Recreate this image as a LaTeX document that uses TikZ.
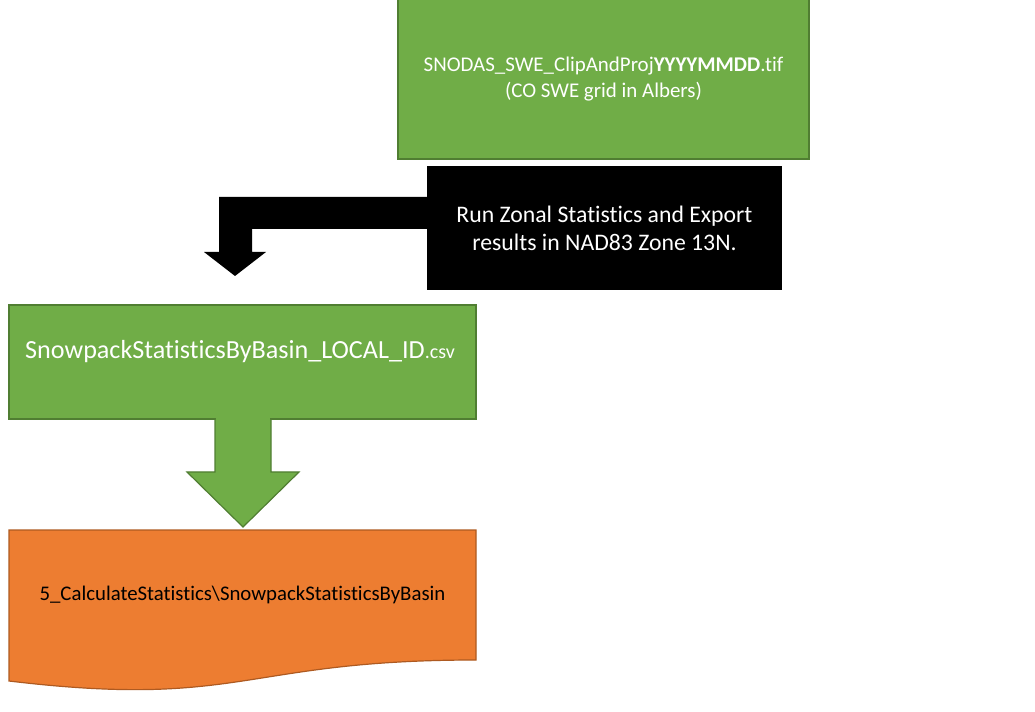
\documentclass[tikz,border=0pt]{standalone}
\usepackage{fontspec}
\setmainfont{Carlito}[Ligatures=NoCommon]
\definecolor{gfill}{HTML}{70AD47}
\definecolor{gline}{HTML}{507E32}
\definecolor{ofill}{HTML}{ED7D31}
\definecolor{oline}{HTML}{AE5A21}
\begin{document}
\begin{tikzpicture}[x=0.75pt,y=-0.75pt,
  gbox/.style={draw=gline,fill=gfill,line width=0.9pt,inner sep=0pt,text=white,align=center},
  kbox/.style={fill=black,inner sep=0pt,text=white,align=center},
  lbl/.style={inner sep=0pt,align=center}]
\useasboundingbox (0,0) rectangle (1035,712);
% top green box
\node[gbox,minimum width=308.25pt,minimum height=120pt,font=\fontsize{15.7}{19}\selectfont] (src) at (603.5,79)
  {SNODAS\_SWE\_ClipAndProj\textbf{YYYYMMDD}.tif\\(CO SWE grid in Albers)};
% black process box
\node[kbox,minimum width=266.25pt,minimum height=93pt,font=\fontsize{17.8}{21}\selectfont] (proc) at (604.5,228)
  {Run Zonal Statistics and Export\\results in NAD83 Zone 13N.};
% black bent arrow
\fill[black] (427,197) -- (219,197) -- (219,252) -- (204,252) -- (235,276) -- (266,252) -- (252,252) -- (252,229) -- (427,229) -- cycle;
% middle green box
\node[gbox,minimum width=350.25pt,minimum height=85.5pt] (csv) at (242.5,362) {};
\node[lbl,text=white,font=\fontsize{19.6}{22}\selectfont] (csvt) at (240,352)
  {SnowpackStatisticsByBasin\_LOCAL\_ID{\fontsize{15}{16}\selectfont.csv}};
% green block arrow
\filldraw[fill=gfill,draw=gline,line width=0.9pt] (215,420) -- (215,472) -- (187,472) -- (243,527) -- (299,472) -- (271,472) -- (271,420);
\fill[gfill] (215.6,418) rectangle (270.4,421);
% orange document shape
\filldraw[fill=ofill,draw=oline,line width=0.9pt] (9,530) -- (476,530) -- (476,660)
  .. controls (242.5,660) and (242.5,709) .. (9,681) -- cycle;
\node[lbl,text=black,font=\fontsize{15.6}{18}\selectfont] (out) at (242.5,595)
  {5\_CalculateStatistics\textbackslash SnowpackStatisticsByBasin};
\end{tikzpicture}
\end{document}
